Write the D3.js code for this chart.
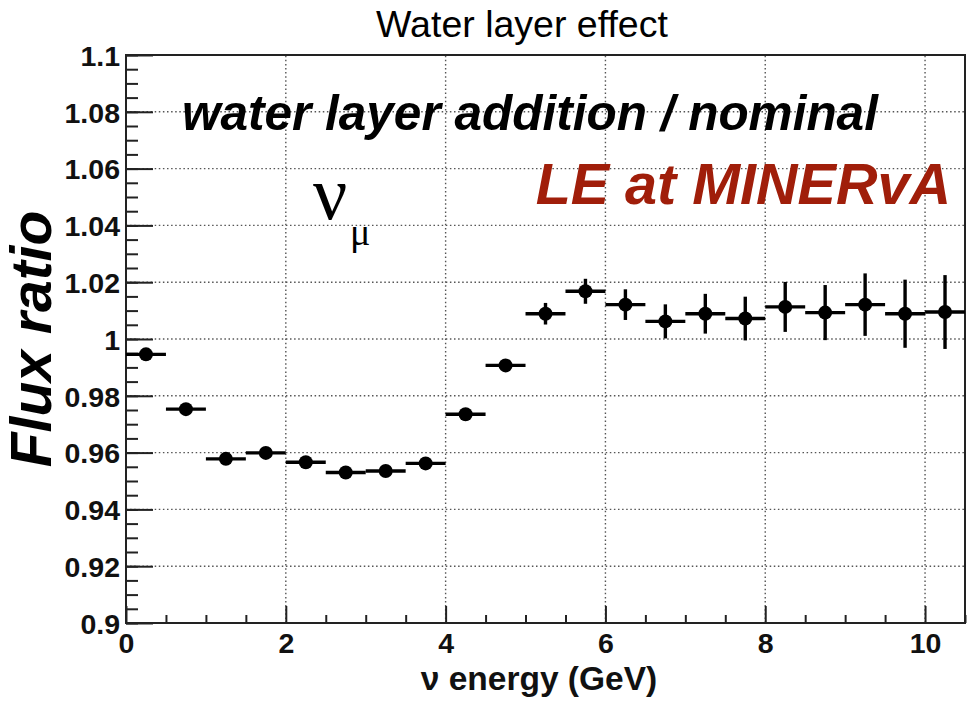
<!DOCTYPE html>
<html>
<head>
<meta charset="utf-8">
<script src="https://cdn.jsdelivr.net/npm/d3@7"></script>
<style>
  html, body { margin: 0; padding: 0; background: #fff; }
  svg { display: block; font-family: "Liberation Sans", Arial, Helvetica, sans-serif; }
</style>
</head>
<body>
<div id="chart"></div>
<script>
// bin edges (GeV), 0.5 GeV wide
const binEdges = [0, 0.5, 1, 1.5, 2, 2.5, 3, 3.5, 4, 4.5, 5, 5.5, 6, 6.5, 7, 7.5, 8, 8.5, 9, 9.5, 10, 10.5];
// flux ratio, water layer addition / nominal
const ratio = [0.9946, 0.9753, 0.9578, 0.9599, 0.9566, 0.9530, 0.9535, 0.9562, 0.9735, 0.9907,
  1.0089, 1.0168, 1.0121, 1.0062, 1.0089, 1.0072, 1.0113, 1.0093, 1.0121, 1.0089, 1.0095];
const ratioErr = [0.0008, 0.0009, 0.0010, 0.0010, 0.0011, 0.0011, 0.0012, 0.0013, 0.0015, 0.0020,
  0.0038, 0.0044, 0.0054, 0.0060, 0.0070, 0.0077, 0.0088, 0.0097, 0.0110, 0.0120, 0.0130];

const xMajorTicks = [0, 2, 4, 6, 8, 10];
const xMinorTicks = [0.5, 1, 1.5, 2.5, 3, 3.5, 4.5, 5, 5.5, 6.5, 7, 7.5, 8.5, 9, 9.5, 10.5];
const yMajorTicks = [0.9, 0.92, 0.94, 0.96, 0.98, 1, 1.02, 1.04, 1.06, 1.08, 1.1];
const yTickLabels = ['0.9', '0.92', '0.94', '0.96', '0.98', '1', '1.02', '1.04', '1.06', '1.08', '1.1'];

const width = 972, height = 703;
const margin = { left: 126, right: 7, top: 55, bottom: 80 };

const svg = d3.select('#chart').append('svg')
  .attr('width', width)
  .attr('height', height);

const x = d3.scaleLinear()
  .domain([0, 10.5])
  .range([margin.left, width - margin.right]);

const y = d3.scaleLinear()
  .domain([0.9, 1.1])
  .range([height - margin.bottom, margin.top]);

const x0 = x.range()[0], x1 = x.range()[1];
const yb = y.range()[0], yt = y.range()[1];

// dotted grid
const grid = svg.append('g')
  .attr('stroke', '#555')
  .attr('stroke-width', 1.4)
  .attr('stroke-dasharray', '1.5,2.6');

grid.selectAll('line.gx')
  .data(xMajorTicks.filter(d => d > 0))
  .join('line')
  .attr('x1', d => x(d)).attr('x2', d => x(d))
  .attr('y1', yb).attr('y2', yt);

grid.selectAll('line.gy')
  .data(yMajorTicks.filter(d => d > 0.9 && d < 1.1))
  .join('line')
  .attr('y1', d => y(d)).attr('y2', d => y(d))
  .attr('x1', x0).attr('x2', x1);

// axes, ticks pointing inward
const styleAxis = g => {
  g.select('.domain').remove();
  g.selectAll('.tick line').attr('stroke', '#222').attr('stroke-width', 2);
};

svg.append('g')
  .attr('transform', `translate(${x0},0)`)
  .call(d3.axisLeft(y).tickValues(yMajorTicks).tickSize(-27).tickPadding(6)
    .tickFormat((d, i) => yTickLabels[i]))
  .call(styleAxis)
  .call(g => g.selectAll('.tick text')
    .attr('font-size', 28.5).attr('font-weight', 'bold').attr('fill', '#111')
    .attr('font-family', '"Liberation Sans", Arial, sans-serif')
    .attr('dy', '0.36em'));

svg.append('g')
  .attr('transform', `translate(${x0},0)`)
  .call(d3.axisLeft(y).ticks(40).tickSize(-12).tickFormat(''))
  .call(styleAxis);

svg.append('g')
  .attr('transform', `translate(0,${yb})`)
  .call(d3.axisBottom(x).tickValues(xMajorTicks).tickSize(-17).tickPadding(9))
  .call(styleAxis)
  .call(g => g.selectAll('.tick text')
    .attr('font-size', 28.5).attr('font-weight', 'bold').attr('fill', '#111')
    .attr('font-family', '"Liberation Sans", Arial, sans-serif')
    .attr('dy', '0.72em'));

svg.append('g')
  .attr('transform', `translate(0,${yb})`)
  .call(d3.axisBottom(x).tickValues(xMinorTicks).tickSize(-8).tickFormat(''))
  .call(styleAxis);

// frame
svg.append('rect')
  .attr('x', x0).attr('y', yt)
  .attr('width', x1 - x0).attr('height', yb - yt)
  .attr('fill', 'none')
  .attr('stroke', '#222')
  .attr('stroke-width', 2);

// data points with bin-width and error bars
const points = ratio.map((v, i) => ({
  lo: binEdges[i], hi: binEdges[i + 1], mid: (binEdges[i] + binEdges[i + 1]) / 2, v, e: ratioErr[i]
}));

const pts = svg.append('g').attr('stroke', '#000').attr('fill', '#000');

pts.selectAll('line.h')
  .data(points)
  .join('line')
  .attr('x1', d => x(d.lo)).attr('x2', d => x(d.hi))
  .attr('y1', d => y(d.v)).attr('y2', d => y(d.v))
  .attr('stroke-width', 3.4);

pts.selectAll('line.v')
  .data(points)
  .join('line')
  .attr('x1', d => x(d.mid)).attr('x2', d => x(d.mid))
  .attr('y1', d => y(d.v - d.e)).attr('y2', d => y(d.v + d.e))
  .attr('stroke-width', 3.4);

pts.selectAll('circle')
  .data(points)
  .join('circle')
  .attr('cx', d => x(d.mid)).attr('cy', d => y(d.v))
  .attr('r', 7)
  .attr('stroke', 'none');

// texts
svg.append('text')
  .attr('x', 522).attr('y', 37)
  .attr('text-anchor', 'middle')
  .attr('font-size', 37.5)
  .attr('fill', '#000')
  .text('Water layer effect');

svg.append('text')
  .attr('x', 182).attr('y', 130)
  .attr('font-size', 49.5)
  .attr('font-weight', 'bold').attr('font-style', 'italic')
  .attr('fill', '#000')
  .text('water layer addition / nominal');

svg.append('text')
  .attr('x', 951).attr('y', 204)
  .attr('text-anchor', 'end')
  .attr('font-size', 57.5)
  .attr('font-weight', 'bold').attr('font-style', 'italic')
  .attr('fill', '#a01e0a')
  .text('LE at MINERvA');

svg.append('text')
  .attr('x', 313).attr('y', 219)
  .attr('font-family', '"Liberation Serif", "DejaVu Serif", serif')
  .attr('font-size', 76)
  .attr('fill', '#000')
  .text('ν');

svg.append('text')
  .attr('x', 350).attr('y', 245)
  .attr('font-family', '"Liberation Serif", "DejaVu Serif", serif')
  .attr('font-size', 38)
  .attr('fill', '#000')
  .text('μ');

svg.append('text')
  .attr('transform', 'translate(51,339) rotate(-90)')
  .attr('text-anchor', 'middle')
  .attr('font-size', 57)
  .attr('font-weight', 'bold').attr('font-style', 'italic')
  .attr('fill', '#000')
  .text('Flux ratio');

svg.append('text')
  .attr('x', 539).attr('y', 690)
  .attr('text-anchor', 'middle')
  .attr('font-size', 33.5)
  .attr('font-weight', 'bold')
  .attr('fill', '#111')
  .text('ν energy (GeV)');
</script>
</body>
</html>
